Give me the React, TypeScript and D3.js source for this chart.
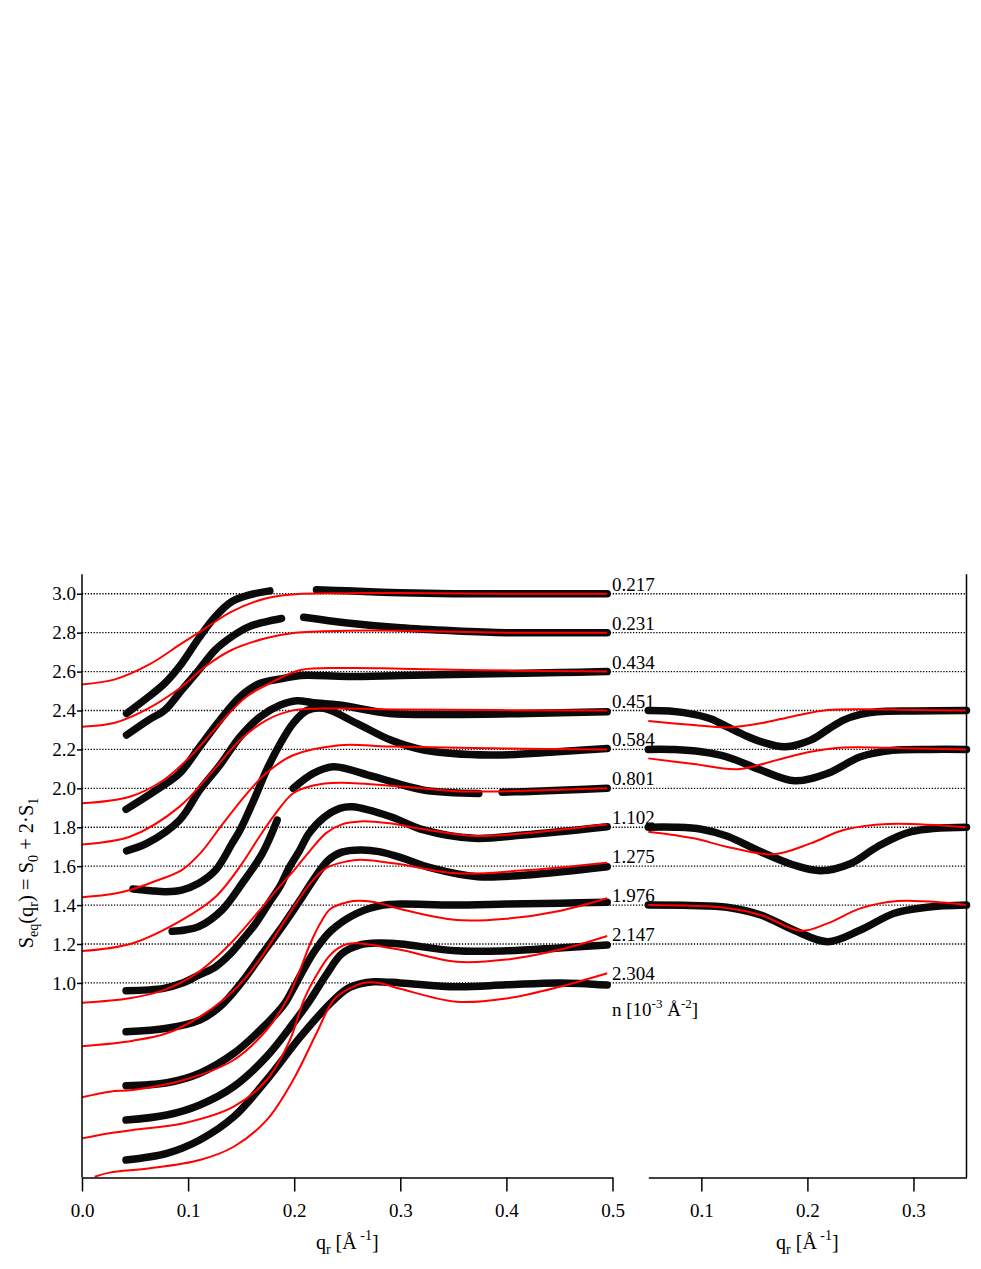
import React, { useEffect, useRef } from 'react'
import * as d3 from 'd3'

// densities n [10^-3 A^-2] and the offset line each curve sits on
const densities = ['0.217', '0.231', '0.434', '0.451', '0.584', '0.801', '1.102', '1.275', '1.976', '2.147', '2.304']
const offsets = [3.0, 2.8, 2.6, 2.4, 2.2, 2.0, 1.8, 1.6, 1.4, 1.2, 1.0]
const yTicks = [1.0, 1.2, 1.4, 1.6, 1.8, 2.0, 2.2, 2.4, 2.6, 2.8, 3.0]
const xTicksLeft = [0, 0.1, 0.2, 0.3, 0.4, 0.5]
const xTicksRight = [0.1, 0.2, 0.3]

// measured points (segments), [q, S]
const exp217 = [
  [[0.042, 2.385], [0.0626, 2.47], [0.078, 2.54], [0.094, 2.642], [0.11, 2.771], [0.1255, 2.882], [0.141, 2.959], [0.157, 2.993], [0.177, 3.015]],
  [[0.221, 3.02], [0.25, 3.015], [0.3, 3.005], [0.35, 3.0], [0.4, 3.0], [0.45, 3.0], [0.495, 3.0]]
]
const exp231 = [
  [[0.042, 2.274], [0.0626, 2.351], [0.078, 2.402], [0.094, 2.505], [0.11, 2.608], [0.1255, 2.711], [0.141, 2.779], [0.157, 2.83], [0.173, 2.856], [0.188, 2.873]],
  [[0.209, 2.879], [0.25, 2.85], [0.3, 2.825], [0.35, 2.81], [0.4, 2.8], [0.45, 2.8], [0.495, 2.8]]
]
const exp434 = [
  [[0.0415, 1.892], [0.07, 1.991], [0.092, 2.077], [0.111, 2.214], [0.13, 2.351], [0.149, 2.471], [0.168, 2.54], [0.19, 2.565], [0.206, 2.58], [0.25, 2.575], [0.3, 2.58], [0.35, 2.585], [0.4, 2.59], [0.45, 2.595], [0.495, 2.6]]
]
const exp451 = [
  [[0.042, 1.679], [0.061, 1.717], [0.092, 1.837], [0.111, 1.991], [0.13, 2.12], [0.149, 2.265], [0.168, 2.368], [0.187, 2.428], [0.2025, 2.45], [0.218, 2.44], [0.243, 2.428], [0.29, 2.385], [0.353, 2.38], [0.42, 2.385], [0.495, 2.394]]
]
const exp584 = [
  [[0.048, 1.483], [0.065, 1.474], [0.079, 1.469], [0.094, 1.477], [0.11, 1.512], [0.126, 1.58], [0.1415, 1.717], [0.149, 1.786], [0.162, 1.94], [0.174, 2.094], [0.187, 2.231], [0.199, 2.334], [0.212, 2.4], [0.228, 2.411], [0.259, 2.334], [0.291, 2.248], [0.322, 2.197], [0.385, 2.171], [0.448, 2.188], [0.495, 2.205]]
]
const exp801 = [
  [[0.085, 1.265], [0.097, 1.272], [0.11, 1.289], [0.132, 1.375], [0.151, 1.512], [0.17, 1.666], [0.184, 1.837]],
  [[0.199, 2.0], [0.218, 2.077], [0.237, 2.111], [0.275, 2.06], [0.322, 1.991], [0.374, 1.974]],
  [[0.396, 1.98], [0.416, 1.983], [0.45, 1.99], [0.495, 2.0]]
]
const exp1102 = [
  [[0.0415, 0.96], [0.077, 0.972], [0.094, 0.998], [0.11, 1.04], [0.126, 1.083], [0.14, 1.15], [0.151, 1.22], [0.163, 1.3], [0.176, 1.409], [0.187, 1.5], [0.195, 1.59], [0.205, 1.68], [0.214, 1.769], [0.228, 1.85], [0.243, 1.897], [0.255, 1.905], [0.291, 1.854], [0.322, 1.786], [0.369, 1.743], [0.416, 1.76], [0.495, 1.803]]
]
const exp1275 = [
  [[0.0415, 0.749], [0.08, 0.767], [0.111, 0.809], [0.13, 0.878], [0.15, 1.0], [0.17, 1.15], [0.19, 1.3], [0.205, 1.42], [0.218, 1.529], [0.232, 1.63], [0.245, 1.672], [0.262, 1.683], [0.28, 1.675], [0.3, 1.645], [0.33, 1.59], [0.373, 1.546], [0.42, 1.555], [0.495, 1.597]]
]
const exp1976 = [
  [[0.0415, 0.472], [0.08, 0.487], [0.111, 0.536], [0.143, 0.638], [0.168, 0.758], [0.19, 0.886], [0.2, 0.98], [0.21, 1.08], [0.22, 1.17], [0.235, 1.27], [0.259, 1.358], [0.284, 1.4], [0.3, 1.405], [0.35, 1.4], [0.4, 1.405], [0.45, 1.41], [0.495, 1.415]]
]
const exp2147 = [
  [[0.0415, 0.295], [0.08, 0.321], [0.111, 0.373], [0.143, 0.467], [0.174, 0.621], [0.199, 0.792], [0.215, 0.912], [0.23, 1.04], [0.245, 1.15], [0.262, 1.195], [0.28, 1.205], [0.3, 1.2], [0.353, 1.165], [0.4, 1.165], [0.45, 1.18], [0.495, 1.195]]
]
const exp2304 = [
  [[0.0415, 0.09], [0.08, 0.124], [0.111, 0.193], [0.143, 0.312], [0.174, 0.501], [0.206, 0.724], [0.234, 0.895], [0.25, 0.97], [0.262, 0.995], [0.275, 1.006], [0.3, 1.0], [0.353, 0.98], [0.4, 0.99], [0.45, 1.0], [0.495, 0.989]]
]

// model curves (red)
const fit217 = [[0, 2.534], [0.031, 2.56], [0.0626, 2.634], [0.094, 2.745], [0.116, 2.822], [0.141, 2.908], [0.173, 2.976], [0.201, 2.998], [0.25, 3.003], [0.3, 3.004], [0.4, 3.0], [0.495, 3.0]]
const fit231 = [[0, 2.317], [0.031, 2.337], [0.0626, 2.411], [0.094, 2.522], [0.116, 2.625], [0.141, 2.711], [0.173, 2.771], [0.201, 2.8], [0.25, 2.81], [0.3, 2.81], [0.4, 2.8], [0.495, 2.8]]
const fit434 = [[0, 1.923], [0.045, 1.957], [0.077, 2.043], [0.105, 2.18], [0.13, 2.334], [0.155, 2.471], [0.18, 2.548], [0.206, 2.608], [0.25, 2.618], [0.3, 2.615], [0.4, 2.605], [0.495, 2.6]]
const fit451 = [[0, 1.712], [0.045, 1.751], [0.092, 1.906], [0.124, 2.094], [0.149, 2.248], [0.174, 2.351], [0.2, 2.402], [0.243, 2.41], [0.3, 2.405], [0.495, 2.4]]
const fit584 = [[0, 1.44], [0.03, 1.458], [0.047, 1.48], [0.07, 1.525], [0.094, 1.58], [0.112, 1.67], [0.133, 1.82], [0.155, 1.97], [0.174, 2.08], [0.199, 2.17], [0.243, 2.222], [0.29, 2.215], [0.4, 2.205], [0.495, 2.2]]
const fit801 = [[0, 1.164], [0.047, 1.203], [0.094, 1.323], [0.126, 1.443], [0.151, 1.615], [0.167, 1.75], [0.181, 1.86], [0.199, 1.975], [0.218, 2.015], [0.243, 2.029], [0.3, 2.01], [0.353, 1.985], [0.4, 1.985], [0.495, 2.0]]
const fit1102 = [[0, 0.898], [0.045, 0.921], [0.077, 0.963], [0.108, 1.049], [0.14, 1.203], [0.165, 1.358], [0.187, 1.5], [0.2, 1.58], [0.215, 1.68], [0.23, 1.77], [0.245, 1.815], [0.262, 1.83], [0.29, 1.82], [0.322, 1.79], [0.37, 1.755], [0.42, 1.77], [0.495, 1.815]]
const fit1275 = [[0, 0.674], [0.048, 0.703], [0.08, 0.741], [0.111, 0.826], [0.133, 0.912], [0.15, 1.0], [0.17, 1.14], [0.19, 1.31], [0.215, 1.51], [0.23, 1.59], [0.25, 1.625], [0.262, 1.633], [0.3, 1.61], [0.353, 1.563], [0.42, 1.58], [0.495, 1.618]]
const fit1976 = [[0, 0.412], [0.026, 0.441], [0.048, 0.45], [0.096, 0.501], [0.143, 0.604], [0.174, 0.758], [0.193, 0.912], [0.205, 1.06], [0.215, 1.2], [0.225, 1.31], [0.234, 1.38], [0.25, 1.415], [0.262, 1.422], [0.28, 1.41], [0.3, 1.38], [0.353, 1.323], [0.4, 1.33], [0.45, 1.37], [0.495, 1.435]]
const fit2147 = [[0, 0.201], [0.026, 0.227], [0.048, 0.244], [0.096, 0.279], [0.143, 0.364], [0.174, 0.501], [0.196, 0.707], [0.209, 0.912], [0.22, 1.03], [0.235, 1.15], [0.25, 1.2], [0.262, 1.203], [0.3, 1.17], [0.353, 1.109], [0.4, 1.12], [0.45, 1.17], [0.495, 1.241]]
const fit2304 = [[0.012, 0.004], [0.026, 0.025], [0.064, 0.047], [0.111, 0.09], [0.143, 0.158], [0.174, 0.295], [0.199, 0.501], [0.221, 0.741], [0.237, 0.912], [0.25, 0.965], [0.265, 1.0], [0.28, 1.0], [0.3, 0.97], [0.353, 0.903], [0.4, 0.92], [0.45, 0.98], [0.495, 1.05]]

// right panel
const rExp451 = [[0.05, 2.4], [0.07, 2.397], [0.093, 2.38], [0.11, 2.355], [0.124, 2.317], [0.14, 2.275], [0.156, 2.24], [0.179, 2.214], [0.203, 2.248], [0.22, 2.305], [0.234, 2.351], [0.25, 2.38], [0.266, 2.394], [0.3, 2.398], [0.35, 2.4]]
const rFit451 = [[0.05, 2.346], [0.093, 2.325], [0.124, 2.313], [0.156, 2.334], [0.187, 2.371], [0.219, 2.402], [0.25, 2.407], [0.3, 2.403], [0.35, 2.4]]
const rExp584 = [[0.05, 2.2], [0.075, 2.199], [0.1, 2.188], [0.124, 2.162], [0.156, 2.094], [0.188, 2.039], [0.219, 2.077], [0.25, 2.162], [0.28, 2.195], [0.315, 2.2], [0.35, 2.2]]
const rFit584 = [[0.05, 2.154], [0.093, 2.125], [0.134, 2.098], [0.171, 2.145], [0.203, 2.188], [0.234, 2.21], [0.3, 2.205], [0.35, 2.2]]
const rExp1102 = [[0.05, 1.8], [0.075, 1.8], [0.1, 1.79], [0.124, 1.755], [0.156, 1.674], [0.187, 1.606], [0.2125, 1.577], [0.241, 1.614], [0.266, 1.7], [0.298, 1.777], [0.35, 1.8]]
const rFit1102 = [[0.05, 1.777], [0.093, 1.743], [0.124, 1.7], [0.168, 1.661], [0.203, 1.717], [0.234, 1.786], [0.276, 1.817], [0.35, 1.8]]
const rExp1976 = [[0.05, 1.4], [0.09, 1.398], [0.124, 1.389], [0.156, 1.349], [0.187, 1.272], [0.219, 1.212], [0.25, 1.272], [0.282, 1.358], [0.313, 1.389], [0.35, 1.4]]
const rFit1976 = [[0.05, 1.4], [0.124, 1.385], [0.156, 1.349], [0.194, 1.268], [0.219, 1.306], [0.25, 1.383], [0.285, 1.421], [0.329, 1.413], [0.35, 1.4]]

const leftExp = [exp217, exp231, exp434, exp451, exp584, exp801, exp1102, exp1275, exp1976, exp2147, exp2304]
const leftFit = [fit217, fit231, fit434, fit451, fit584, fit801, fit1102, fit1275, fit1976, fit2147, fit2304]
const rightExp = [rExp451, rExp584, rExp1102, rExp1976]
const rightFit = [rFit451, rFit584, rFit1102, rFit1976]

const FONT = '"Liberation Serif", "Times New Roman", Times, serif'

function App() {
  const svgRef = useRef(null)

  useEffect(() => {
    const w = 981
    const h = 1269
    const svg = d3.select(svgRef.current)
      .attr('width', w)
      .attr('height', h)
    svg.selectAll('*').remove()

    const y = d3.scaleLinear().domain([0, 3.1]).range([1177.5, 574.3])
    const xL = d3.scaleLinear().domain([0, 0.5]).range([82, 612.5])
    const xR = d3.scaleLinear().domain([0.05, 0.35]).range([648.3, 966.5])

    // dotted reference lines across both panels
    svg.append('g').selectAll('line')
      .data(yTicks)
      .join('line')
      .attr('x1', xL(0))
      .attr('x2', xR(0.35))
      .attr('y1', d => y(d))
      .attr('y2', d => y(d))
      .attr('stroke', '#000')
      .attr('stroke-width', 1.4)
      .attr('stroke-dasharray', '1.3,1.6')

    const smooth = d3.curveCatmullRom.alpha(0.5)
    const lineL = d3.line().x(d => xL(d[0])).y(d => y(d[1])).curve(smooth)
    const lineR = d3.line().x(d => xR(d[0])).y(d => y(d[1])).curve(smooth)

    // measured data, drawn as a thick band of markers
    const expG = svg.append('g')
    leftExp.forEach(segs => {
      segs.forEach(seg => {
        expG.append('path')
          .attr('d', lineL(seg))
          .attr('fill', 'none')
          .attr('stroke', '#0a0a0a')
          .attr('stroke-width', 7.5)
          .attr('stroke-linecap', 'round')
          .attr('stroke-linejoin', 'round')
      })
    })
    rightExp.forEach(seg => {
      expG.append('path')
        .attr('d', lineR(seg))
        .attr('fill', 'none')
        .attr('stroke', '#0a0a0a')
        .attr('stroke-width', 7.5)
        .attr('stroke-linecap', 'round')
    })

    // model curves
    const fitG = svg.append('g')
    leftFit.forEach(f => {
      fitG.append('path')
        .attr('d', lineL(f))
        .attr('fill', 'none')
        .attr('stroke', '#ff0000')
        .attr('stroke-width', 2)
    })
    rightFit.forEach(f => {
      fitG.append('path')
        .attr('d', lineR(f))
        .attr('fill', 'none')
        .attr('stroke', '#ff0000')
        .attr('stroke-width', 2)
    })

    // axes
    const fmt = d3.format('.1f')
    const yAxis = d3.axisLeft(y).tickValues(yTicks).tickFormat(fmt).tickSize(5).tickPadding(1).tickSizeOuter(0)
    const gy = svg.append('g').attr('transform', `translate(${xL(0)},0)`).call(yAxis)
    gy.select('.domain').remove()
    gy.append('line')
      .attr('x1', 0).attr('x2', 0)
      .attr('y1', 574.3).attr('y2', y(0))
      .attr('stroke', '#000').attr('stroke-width', 1.5)

    const xAxisL = d3.axisBottom(xL).tickValues(xTicksLeft).tickFormat(fmt).tickSize(14).tickPadding(12).tickSizeOuter(0)
    const gxl = svg.append('g').attr('transform', `translate(0,${y(0)})`).call(xAxisL)
    const xAxisR = d3.axisBottom(xR).tickValues(xTicksRight).tickFormat(fmt).tickSize(14).tickPadding(12).tickSizeOuter(0)
    const gxr = svg.append('g').attr('transform', `translate(0,${y(0)})`).call(xAxisR)

    svg.append('line')
      .attr('x1', xR(0.35)).attr('x2', xR(0.35))
      .attr('y1', 574.3).attr('y2', y(0))
      .attr('stroke', '#000').attr('stroke-width', 1.5)

    ;[gy, gxl, gxr].forEach(g => {
      g.attr('font-family', FONT).attr('font-size', 19)
      g.selectAll('line').attr('stroke', '#000').attr('stroke-width', 1.5)
      g.selectAll('.domain').attr('stroke', '#000').attr('stroke-width', 1.5)
      g.selectAll('text').attr('fill', '#000')
    })

    // density labels
    svg.append('g').selectAll('text')
      .data(densities)
      .join('text')
      .attr('x', 612)
      .attr('y', (d, i) => y(offsets[i]) - 3)
      .attr('font-family', FONT)
      .attr('font-size', 19)
      .text(d => d)

    const unit = svg.append('text')
      .attr('x', 612)
      .attr('y', 1016)
      .attr('font-family', FONT)
      .attr('font-size', 19)
    unit.append('tspan').text('n [10')
    unit.append('tspan').attr('dy', -8).attr('font-size', 13).text('-3')
    unit.append('tspan').attr('dy', 8).text(' Å')
    unit.append('tspan').attr('dy', -8).attr('font-size', 13).text('-2')
    unit.append('tspan').attr('dy', 8).text(']')

    // axis titles
    const xTitle = (cx) => {
      const t = svg.append('text')
        .attr('x', cx)
        .attr('y', 1249)
        .attr('text-anchor', 'middle')
        .attr('font-family', FONT)
        .attr('font-size', 20)
      t.append('tspan').text('q')
      t.append('tspan').attr('dy', 5).attr('font-size', 14).text('r')
      t.append('tspan').attr('dy', -5).text(' [Å')
      t.append('tspan').attr('dy', -9).attr('font-size', 14).text(' -1')
      t.append('tspan').attr('dy', 9).text(']')
    }
    xTitle((xL(0) + xL(0.5)) / 2)
    xTitle((xR(0.05) + xR(0.35)) / 2)

    const yTitle = svg.append('text')
      .attr('transform', `translate(33,873) rotate(-90)`)
      .attr('text-anchor', 'middle')
      .attr('font-family', FONT)
      .attr('font-size', 20.5)
    yTitle.append('tspan').text('S')
    yTitle.append('tspan').attr('dy', 5).attr('font-size', 14).text('eq')
    yTitle.append('tspan').attr('dy', -5).text('(q')
    yTitle.append('tspan').attr('dy', 5).attr('font-size', 14).text('r')
    yTitle.append('tspan').attr('dy', -5).text(') = S')
    yTitle.append('tspan').attr('dy', 5).attr('font-size', 14).text('0')
    yTitle.append('tspan').attr('dy', -5).text(' + 2·S')
    yTitle.append('tspan').attr('dy', 5).attr('font-size', 14).text('1')
  }, [])

  return (
    <div style={{ position: 'absolute', left: 0, top: 0, width: 981, height: 1269, background: '#fff' }}>
      <svg ref={svgRef} style={{ display: 'block' }} />
    </div>
  )
}

export default App
